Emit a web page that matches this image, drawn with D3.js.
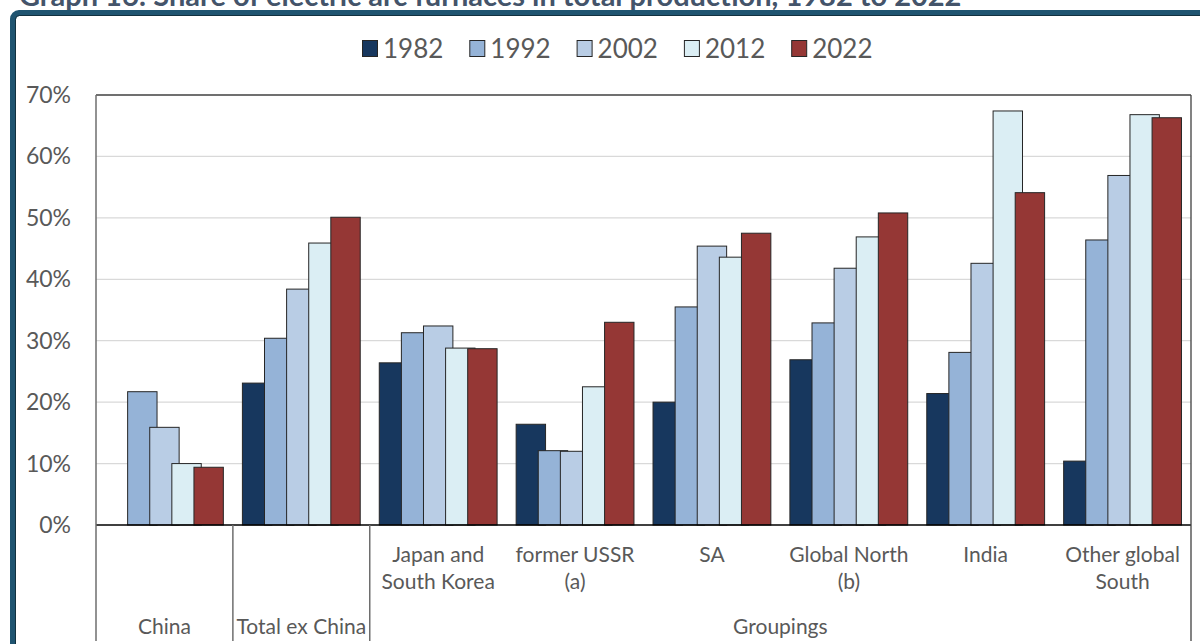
<!DOCTYPE html>
<html>
<head>
<meta charset="utf-8">
<script src="https://cdn.jsdelivr.net/npm/d3@7"></script>
<style>
  html, body { margin: 0; padding: 0; background: #fff; }
  svg { display: block; font-family: Lato, "Noto Sans", sans-serif; }
</style>
</head>
<body>
<svg id="chart" width="1200" height="644"></svg>
<script>
// Share of electric arc furnaces in total steel production, by region
const categories = ["China", "Total ex China", "Japan and\nSouth Korea", "former USSR\n(a)", "SA", "Global North\n(b)", "India", "Other global\nSouth"];
const years = ["1982", "1992", "2002", "2012", "2022"];
const share1982 = [null, 23.1, 26.4, 16.4, 20.0, 26.9, 21.4, 10.4];
const share1992 = [21.7, 30.4, 31.3, 12.1, 35.5, 32.9, 28.1, 46.4];
const share2002 = [15.9, 38.4, 32.4, 12.0, 45.4, 41.8, 42.6, 56.9];
const share2012 = [10.0, 45.9, 28.8, 22.5, 43.6, 46.9, 67.4, 66.8];
const share2022 = [9.4, 50.1, 28.7, 33.0, 47.5, 50.8, 54.1, 66.3];
const yTicks = [0, 10, 20, 30, 40, 50, 60, 70];
// upper category level: label and index span of the lower-level categories it covers
const groupNames = ["China", "Total ex China", "Groupings"];
const groupSpans = [[0, 0], [1, 1], [2, 7]];

const seriesValues = [share1982, share1992, share2002, share2012, share2022];
const colors = ["#17375e", "#95b3d7", "#b9cde5", "#dbeef4", "#953735"];

const svg = d3.select("#chart");
const textColor = "#595959";

// title (runs off the top edge)
svg.append("text")
  .attr("x", 19).attr("y", 6)
  .attr("font-size", 29).attr("font-weight", 700)
  .attr("fill", "#44546a")
  .text("Graph 16: Share of electric arc furnaces in total production, 1982 to 2022");

// frame
svg.append("rect")
  .attr("x", 13).attr("y", 13).attr("width", 1400).attr("height", 900)
  .attr("rx", 6)
  .attr("fill", "#fff").attr("stroke", "#1f5470").attr("stroke-width", 6);
svg.append("rect")
  .attr("x", 15.5).attr("y", 15.5).attr("width", 1400).attr("height", 900)
  .attr("rx", 4)
  .attr("fill", "none").attr("stroke", "#12313f").attr("stroke-width", 1);

const plotLeft = 96, plotRight = 1191, plotTop = 95, zeroY = 525, axisBottom = 641;

const x = d3.scaleBand().domain(d3.range(categories.length)).range([plotLeft, plotRight]).padding(0);
const y = d3.scaleLinear().domain([0, 70]).range([zeroY, plotTop]);

const bw = x.bandwidth();
const barW = bw * 0.2148;
const step = bw * 0.1615;
const span = step * (years.length - 1) + barW;
const xs = d3.scalePoint().domain(years).range([(bw - span) / 2, (bw - span) / 2 + step * (years.length - 1)]);

// gridlines
svg.append("g").selectAll("line")
  .data(yTicks.filter(t => t > 0 && t < 70))
  .join("line")
  .attr("x1", plotLeft).attr("x2", plotRight)
  .attr("y1", d => y(d)).attr("y2", d => y(d))
  .attr("stroke", "#d9d9d9").attr("stroke-width", 1.3);

// y tick labels
svg.append("g").selectAll("text")
  .data(yTicks)
  .join("text")
  .attr("x", 71).attr("y", d => y(d) + 8)
  .attr("text-anchor", "end")
  .attr("font-size", 23).attr("fill", textColor)
  .text(d => d + "%");

// bars, drawn series by series so later years overlap earlier ones
years.forEach((yr, si) => {
  svg.append("g").selectAll("rect")
    .data(seriesValues[si].map((v, i) => ({ v, i })).filter(d => d.v !== null))
    .join("rect")
    .attr("x", d => x(d.i) + xs(yr))
    .attr("y", d => y(d.v))
    .attr("width", barW)
    .attr("height", d => zeroY - y(d.v))
    .attr("fill", colors[si])
    .attr("stroke", "#262626").attr("stroke-width", 1);
});

// plot frame and axis lines
svg.append("line").attr("x1", plotLeft).attr("x2", plotRight).attr("y1", plotTop).attr("y2", plotTop)
  .attr("stroke", "#404040").attr("stroke-width", 1.3);
svg.append("line").attr("x1", plotLeft).attr("x2", plotRight).attr("y1", zeroY).attr("y2", zeroY)
  .attr("stroke", "#000").attr("stroke-width", 1.5);
svg.append("line").attr("x1", plotLeft).attr("x2", plotLeft).attr("y1", plotTop).attr("y2", axisBottom)
  .attr("stroke", "#6e6e6e").attr("stroke-width", 1.5);
svg.append("line").attr("x1", plotRight).attr("x2", plotRight).attr("y1", plotTop).attr("y2", axisBottom)
  .attr("stroke", "#404040").attr("stroke-width", 1.3);

// separators between upper-level groups
svg.append("g").selectAll("line")
  .data(groupSpans.slice(1))
  .join("line")
  .attr("x1", d => x(d[0])).attr("x2", d => x(d[0]))
  .attr("y1", zeroY).attr("y2", axisBottom)
  .attr("stroke", "#6e6e6e").attr("stroke-width", 1.5);

// lower-level category labels (only inside multi-category groups)
const inGroup = i => groupSpans.some(s => s[1] > s[0] && i >= s[0] && i <= s[1]);
const catLabels = svg.append("g").selectAll("text")
  .data(categories.map((c, i) => ({ c, i })).filter(d => inGroup(d.i)))
  .join("text")
  .attr("x", d => x(d.i) + bw / 2)
  .attr("y", 562)
  .attr("text-anchor", "middle")
  .attr("font-size", 21).attr("fill", textColor);
catLabels.selectAll("tspan")
  .data(d => d.c.split("\n").map((t, k) => ({ t, k, cx: x(d.i) + bw / 2 })))
  .join("tspan")
  .attr("x", d => d.cx)
  .attr("dy", d => d.k === 0 ? 0 : 27)
  .text(d => d.t);

// upper-level group labels
svg.append("g").selectAll("text")
  .data(groupNames.map((g, k) => ({ g, s: groupSpans[k] })))
  .join("text")
  .attr("x", d => (x(d.s[0]) + x(d.s[1]) + bw) / 2)
  .attr("y", 634)
  .attr("text-anchor", "middle")
  .attr("font-size", 21).attr("fill", textColor)
  .text(d => d.g);

// legend
const legend = svg.append("g").selectAll("g")
  .data(years)
  .join("g")
  .attr("transform", (d, i) => `translate(${362 + i * 107.3},40)`);
legend.append("rect")
  .attr("x", 0.5).attr("y", 0.5).attr("width", 15).attr("height", 16)
  .attr("fill", (d, i) => colors[i])
  .attr("stroke", "#262626").attr("stroke-width", 1);
legend.append("text")
  .attr("x", 21).attr("y", 18)
  .attr("font-size", 26).attr("fill", textColor)
  .text(d => d);
</script>
</body>
</html>
